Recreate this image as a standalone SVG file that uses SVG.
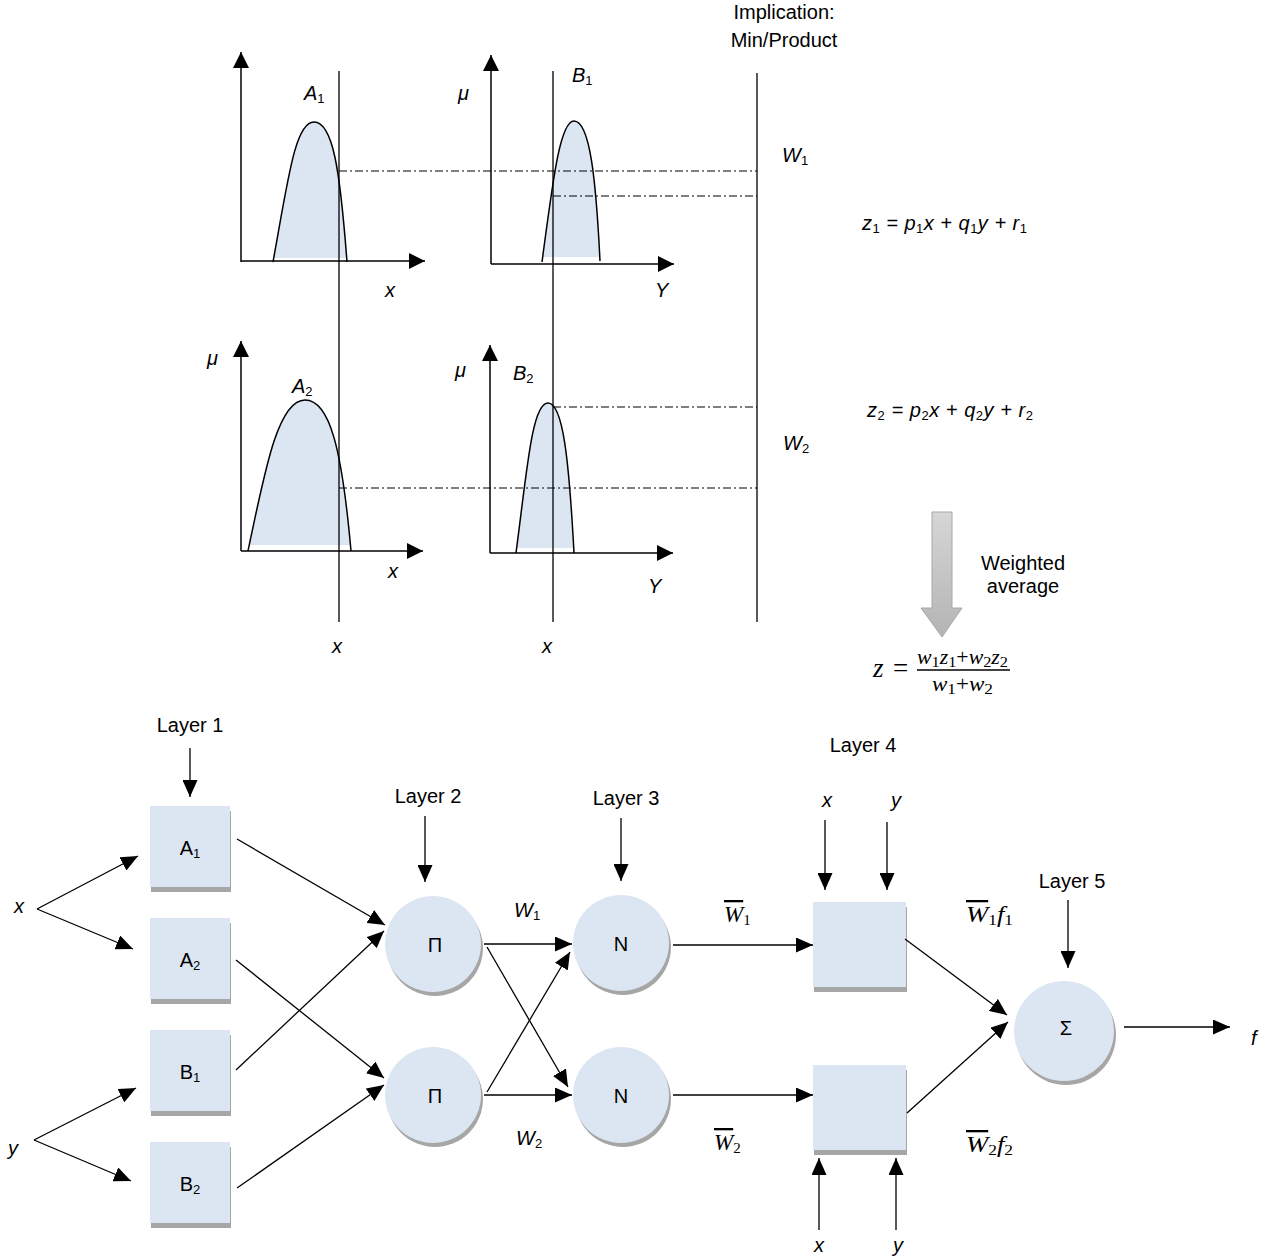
<svg xmlns="http://www.w3.org/2000/svg" width="1266" height="1258" viewBox="0 0 1266 1258">
<defs>
<marker id="ah" markerUnits="userSpaceOnUse" markerWidth="17" markerHeight="15" refX="17" refY="7.5" orient="auto"><path d="M0,0 L17,7.5 L0,15 z" fill="#000"/></marker>
<marker id="ax" markerUnits="userSpaceOnUse" markerWidth="16" markerHeight="16" refX="16" refY="8" orient="auto"><path d="M0,0 L16,8 L0,16 z" fill="#000"/></marker>
<linearGradient id="gg" x1="0" y1="0" x2="0" y2="1"><stop offset="0" stop-color="#d6d6d6"/><stop offset="1" stop-color="#b4b4b4"/></linearGradient>
</defs>
<style>
text{font-family:"Liberation Sans",Arial,sans-serif;font-size:20px;fill:#000}
.it{font-style:italic}
.m{font-family:"Liberation Serif","Times New Roman",serif;font-style:italic;font-size:23px}
.sub{font-size:13px;font-style:normal}
.ms{font-size:15px;font-style:normal}
.ax{stroke:#000;stroke-width:1.5;fill:none;marker-end:url(#ax)}
.vl{stroke:#000;stroke-width:1.3;fill:none}
.dd{stroke:#000;stroke-width:1;fill:none;stroke-dasharray:8 3 2 3}
.cv{stroke:#000;stroke-width:1.5;fill:none}
.cf{fill:#dce6f2;stroke:none}
.c{stroke:#000;stroke-width:1.3;fill:none;marker-end:url(#ah)}
.nd{fill:#dce6f2}
.sh{fill:#a6a6a6}
</style>

<g id="top-plots">
<path class="cf" d="M274,258 C288,180 295,122 314,122 C333,122 340,170 346,258 Z"/>
<path class="cv" d="M273,262 C288,180 295,122 314,122 C333,122 340,170 347,262"/>
<line class="ax" x1="241" y1="262" x2="241" y2="52"/>
<line class="ax" x1="241" y1="261" x2="425" y2="261"/>
<path class="cf" d="M543,257 C553,180 560,121 574,121 C590,121 596,180 599,257 Z"/>
<path class="cv" d="M542,262 C553,180 560,121 574,121 C590,121 596,180 600,261"/>
<line class="ax" x1="491" y1="264" x2="491" y2="55"/>
<line class="ax" x1="491" y1="264" x2="674" y2="264"/>
<path class="cf" d="M249,545 C265,470 278,400 305,400 C330,400 342,450 350,545 Z"/>
<path class="cv" d="M248,551 C265,470 278,400 305,400 C330,400 342,450 351,551"/>
<line class="ax" x1="241" y1="551" x2="241" y2="341"/>
<line class="ax" x1="241" y1="551" x2="423" y2="551"/>
<path class="cf" d="M517,548 C527,470 532,403 548,403 C563,403 569,460 573,548 Z"/>
<path class="cv" d="M516,553 C527,470 532,403 548,403 C563,403 569,460 574,553"/>
<line class="ax" x1="490" y1="553" x2="490" y2="345"/>
<line class="ax" x1="490" y1="553" x2="673" y2="553"/>
<line class="vl" x1="339" y1="71" x2="339" y2="622"/>
<line class="vl" x1="553" y1="71" x2="553" y2="622"/>
<line class="vl" x1="757" y1="73" x2="757" y2="622"/>
<line class="dd" x1="339" y1="171" x2="757" y2="171"/>
<line class="dd" x1="553" y1="196" x2="757" y2="196"/>
<line class="dd" x1="553" y1="407" x2="757" y2="407"/>
<line class="dd" x1="339" y1="488" x2="757" y2="488"/>
<text class="it" x="304" y="100">A<tspan class="sub" dy="3">1</tspan></text>
<text class="it" x="572" y="82">B<tspan class="sub" dy="3">1</tspan></text>
<text class="it" x="458" y="100">μ</text>
<text class="it" x="292" y="393">A<tspan class="sub" dy="3">2</tspan></text>
<text class="it" x="207" y="365">μ</text>
<text class="it" x="513" y="380">B<tspan class="sub" dy="3">2</tspan></text>
<text class="it" x="455" y="377">μ</text>
<text class="it" x="385" y="297">x</text>
<text class="it" x="655" y="297">Y</text>
<text class="it" x="388" y="578">x</text>
<text class="it" x="648" y="593">Y</text>
<text class="it" x="332" y="653">x</text>
<text class="it" x="542" y="653">x</text>
<text x="784" y="19" text-anchor="middle">Implication:</text>
<text x="784" y="47" text-anchor="middle">Min/Product</text>
<text class="it" x="782" y="162">W<tspan class="sub" dy="3">1</tspan></text>
<text class="it" x="783" y="450">W<tspan class="sub" dy="3">2</tspan></text>
<text class="it" x="862" y="230" textLength="165">z<tspan class="sub" dy="3">1</tspan><tspan dy="-3"> = p</tspan><tspan class="sub" dy="3">1</tspan><tspan dy="-3">x + q</tspan><tspan class="sub" dy="3">1</tspan><tspan dy="-3">y + r</tspan><tspan class="sub" dy="3">1</tspan></text>
<text class="it" x="867" y="417" textLength="166">z<tspan class="sub" dy="3">2</tspan><tspan dy="-3"> = p</tspan><tspan class="sub" dy="3">2</tspan><tspan dy="-3">x + q</tspan><tspan class="sub" dy="3">2</tspan><tspan dy="-3">y + r</tspan><tspan class="sub" dy="3">2</tspan></text>
<polygon points="932,512 952,512 952,608 962,608 942,637 921,608 932,608" fill="url(#gg)" stroke="#a8a8a8" stroke-width="1"/>
<text x="1023" y="570" text-anchor="middle">Weighted</text>
<text x="1023" y="593" text-anchor="middle">average</text>
<text class="m" x="873" y="677" style="font-size:27px">z</text>
<text x="893" y="677" style="font-family:'Liberation Serif',serif;font-size:27px">=</text>
<text class="m" x="917" y="664" style="font-size:20px" textLength="91" lengthAdjust="spacingAndGlyphs">w<tspan class="ms" dy="3">1</tspan><tspan dy="-3">z</tspan><tspan class="ms" dy="3">1</tspan><tspan dy="-3" style="font-style:normal">+</tspan><tspan>w</tspan><tspan class="ms" dy="3">2</tspan><tspan dy="-3">z</tspan><tspan class="ms" dy="3">2</tspan></text>
<line x1="917" y1="670" x2="1010" y2="670" stroke="#000" stroke-width="1.6"/>
<text class="m" x="932" y="691" style="font-size:20px" textLength="61" lengthAdjust="spacingAndGlyphs">w<tspan class="ms" dy="3">1</tspan><tspan dy="-3" style="font-style:normal">+</tspan><tspan>w</tspan><tspan class="ms" dy="3">2</tspan></text>
</g>

<g id="n-A1"><rect class="sh" x="151" y="811" width="80" height="81"/><rect class="nd" x="150" y="806" width="80" height="81"/><text x="190" y="855" text-anchor="middle">A<tspan class="sub" dy="3">1</tspan></text></g>
<g id="n-A2"><rect class="sh" x="151" y="923" width="80" height="81"/><rect class="nd" x="150" y="918" width="80" height="81"/><text x="190" y="967" text-anchor="middle">A<tspan class="sub" dy="3">2</tspan></text></g>
<g id="n-B1"><rect class="sh" x="151" y="1035" width="80" height="81"/><rect class="nd" x="150" y="1030" width="80" height="81"/><text x="190" y="1079" text-anchor="middle">B<tspan class="sub" dy="3">1</tspan></text></g>
<g id="n-B2"><rect class="sh" x="151" y="1147" width="80" height="81"/><rect class="nd" x="150" y="1142" width="80" height="81"/><text x="190" y="1191" text-anchor="middle">B<tspan class="sub" dy="3">2</tspan></text></g>
<g id="n-P1"><circle class="sh" cx="435" cy="948" r="48"/><circle class="nd" cx="433" cy="944" r="48"/><text x="435" y="952" text-anchor="middle">Π</text></g>
<g id="n-P2"><circle class="sh" cx="435" cy="1099" r="48"/><circle class="nd" cx="433" cy="1095" r="48"/><text x="435" y="1103" text-anchor="middle">Π</text></g>
<g id="n-N1"><circle class="sh" cx="623" cy="947" r="48"/><circle class="nd" cx="621" cy="943" r="48"/><text x="621" y="951" text-anchor="middle">N</text></g>
<g id="n-N2"><circle class="sh" cx="623" cy="1099" r="48"/><circle class="nd" cx="621" cy="1095" r="48"/><text x="621" y="1103" text-anchor="middle">N</text></g>
<g id="n-L4a"><rect class="sh" x="814" y="907" width="93" height="85"/><rect class="nd" x="813" y="902" width="93" height="85"/></g>
<g id="n-L4b"><rect class="sh" x="814" y="1070" width="93" height="85"/><rect class="nd" x="813" y="1065" width="93" height="85"/></g>
<g id="n-S"><circle class="sh" cx="1066" cy="1035" r="50"/><circle class="nd" cx="1064" cy="1031" r="50"/><text x="1066" y="1035" text-anchor="middle">Σ</text></g>

<g id="labels">
<text x="190" y="732" text-anchor="middle">Layer 1</text>
<text x="428" y="803" text-anchor="middle">Layer 2</text>
<text x="626" y="805" text-anchor="middle">Layer 3</text>
<text x="863" y="752" text-anchor="middle">Layer 4</text>
<text x="1072" y="888" text-anchor="middle">Layer 5</text>
<text class="it" x="14" y="913">x</text>
<text class="it" x="8" y="1155">y</text>
<text class="it" x="822" y="807">x</text>
<text class="it" x="891" y="807">y</text>
<text class="it" x="814" y="1252">x</text>
<text class="it" x="893" y="1252">y</text>
<text class="it" x="1251" y="1045">f</text>
<text class="it" x="514" y="917">W<tspan class="sub" dy="3">1</tspan></text>
<text class="it" x="516" y="1145">W<tspan class="sub" dy="3">2</tspan></text>
<text class="m" x="724" y="922"><tspan style="text-decoration:overline">W</tspan><tspan class="ms" dy="3">1</tspan></text>
<text class="m" x="714" y="1150"><tspan style="text-decoration:overline">W</tspan><tspan class="ms" dy="3">2</tspan></text>
<text class="m" x="966" y="922" textLength="47" lengthAdjust="spacingAndGlyphs"><tspan style="text-decoration:overline">W</tspan><tspan class="ms" dy="3">1</tspan><tspan dy="-3">f</tspan><tspan class="ms" dy="3">1</tspan></text>
<text class="m" x="966" y="1152" textLength="47" lengthAdjust="spacingAndGlyphs"><tspan style="text-decoration:overline">W</tspan><tspan class="ms" dy="3">2</tspan><tspan dy="-3">f</tspan><tspan class="ms" dy="3">2</tspan></text>
</g>

<g id="connectors">
<line class="c" x1="190" y1="748" x2="190" y2="797"/>
<line class="c" x1="425" y1="816" x2="425" y2="882"/>
<line class="c" x1="621" y1="818" x2="621" y2="881"/>
<line class="c" x1="1068" y1="900" x2="1068" y2="968"/>
<line class="c" x1="825" y1="820" x2="825" y2="890"/>
<line class="c" x1="887" y1="822" x2="887" y2="890"/>
<line class="c" x1="819" y1="1230" x2="819" y2="1158"/>
<line class="c" x1="896" y1="1230" x2="896" y2="1158"/>
<line class="c" x1="37" y1="909" x2="138" y2="856"/>
<line class="c" x1="37" y1="909" x2="133" y2="949"/>
<line class="c" x1="34" y1="1140" x2="136" y2="1088"/>
<line class="c" x1="34" y1="1140" x2="131" y2="1181"/>
<line class="c" x1="237" y1="839" x2="385" y2="925"/>
<line class="c" x1="236" y1="1070" x2="384" y2="931"/>
<line class="c" x1="236" y1="960" x2="384" y2="1078"/>
<line class="c" x1="237" y1="1188" x2="384" y2="1085"/>
<line class="c" x1="484" y1="944" x2="572" y2="944"/>
<line class="c" x1="487" y1="947" x2="568" y2="1087"/>
<line class="c" x1="487" y1="1092" x2="570" y2="952"/>
<line class="c" x1="484" y1="1095" x2="572" y2="1095"/>
<line class="c" x1="673" y1="945" x2="813" y2="945"/>
<line class="c" x1="673" y1="1095" x2="813" y2="1095"/>
<line class="c" x1="905" y1="939" x2="1007" y2="1015"/>
<line class="c" x1="907" y1="1113" x2="1008" y2="1022"/>
<line class="c" x1="1124" y1="1027" x2="1230" y2="1027"/>
</g>
</svg>
